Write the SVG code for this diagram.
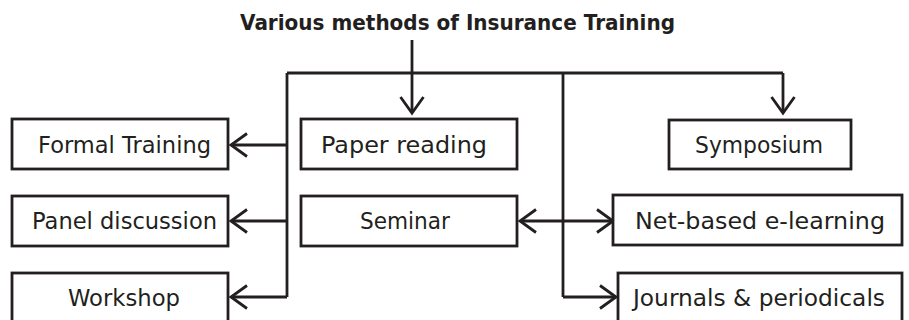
<svg xmlns="http://www.w3.org/2000/svg" width="909" height="320" viewBox="0 0 909 320">
  <style>
    .box { fill: #ffffff; stroke: #231f20; stroke-width: 2.8; }
    .lbl { font-family: "DejaVu Sans", "Liberation Sans", sans-serif; font-size: 23px; fill: #231f20; text-anchor: middle; }
    .title { font-family: "DejaVu Sans", "Liberation Sans", sans-serif; font-size: 20.5px; font-weight: bold; fill: #231f20; text-anchor: middle; }
    .wire { fill: none; stroke: #231f20; stroke-width: 2.8; }
  </style>
  <defs>
    <!-- open chevron arrowhead, tip at the path end -->
    <marker id="chev" markerUnits="userSpaceOnUse" viewBox="-20 -14 24 28" refX="0" refY="0" markerWidth="24" markerHeight="28" orient="auto-start-reverse" overflow="visible">
      <path d="M-16,-11.5 L0,0 L-16,11.5" fill="none" stroke="#231f20" stroke-width="2.8" stroke-linejoin="miter"/>
    </marker>
  </defs>

  <rect width="909" height="320" fill="#ffffff"/>

  <g id="title">
    <text class="title" x="457.5" y="30" textLength="435" lengthAdjust="spacingAndGlyphs">Various methods of Insurance Training</text>
  </g>

  <g id="connectors">
    <path class="wire" d="M412 40 V113" marker-end="url(#chev)"/>
    <path class="wire" d="M287 73 H783"/>
    <path class="wire" d="M783 73 V113" marker-end="url(#chev)"/>
    <path class="wire" d="M287 73 V297"/>
    <path class="wire" d="M287 145 H231" marker-end="url(#chev)"/>
    <path class="wire" d="M287 221 H231" marker-end="url(#chev)"/>
    <path class="wire" d="M287 297 H231" marker-end="url(#chev)"/>
    <path class="wire" d="M563 73 V297"/>
    <path class="wire" d="M520 221 H613" marker-start="url(#chev)" marker-end="url(#chev)"/>
    <path class="wire" d="M563 297 H616" marker-end="url(#chev)"/>
  </g>

  <g id="formal-training">
    <rect class="box" x="12" y="119" width="216" height="50"/>
    <text class="lbl" x="124.5" y="152.5" textLength="173" lengthAdjust="spacingAndGlyphs">Formal Training</text>
  </g>
  <g id="paper-reading">
    <rect class="box" x="301" y="119" width="216" height="50"/>
    <text class="lbl" x="404" y="152.5" textLength="166" lengthAdjust="spacingAndGlyphs">Paper reading</text>
  </g>
  <g id="symposium">
    <rect class="box" x="669" y="120" width="182" height="49"/>
    <text class="lbl" x="759" y="152.5" textLength="128" lengthAdjust="spacingAndGlyphs">Symposium</text>
  </g>
  <g id="panel-discussion">
    <rect class="box" x="12" y="196" width="216" height="50"/>
    <text class="lbl" x="124.5" y="229" textLength="185" lengthAdjust="spacingAndGlyphs">Panel discussion</text>
  </g>
  <g id="seminar">
    <rect class="box" x="301" y="196" width="216" height="50"/>
    <text class="lbl" x="405" y="229" textLength="90" lengthAdjust="spacingAndGlyphs">Seminar</text>
  </g>
  <g id="net-based-e-learning">
    <rect class="box" x="613" y="195" width="289" height="50"/>
    <text class="lbl" x="760" y="228.5" textLength="250" lengthAdjust="spacingAndGlyphs">Net-based e-learning</text>
  </g>
  <g id="workshop">
    <rect class="box" x="12" y="273" width="216" height="52"/>
    <text class="lbl" x="124" y="306" textLength="112" lengthAdjust="spacingAndGlyphs">Workshop</text>
  </g>
  <g id="journals-periodicals">
    <rect class="box" x="618" y="273" width="284" height="52"/>
    <text class="lbl" x="759" y="306" textLength="252" lengthAdjust="spacingAndGlyphs">Journals &amp; periodicals</text>
  </g>
</svg>
